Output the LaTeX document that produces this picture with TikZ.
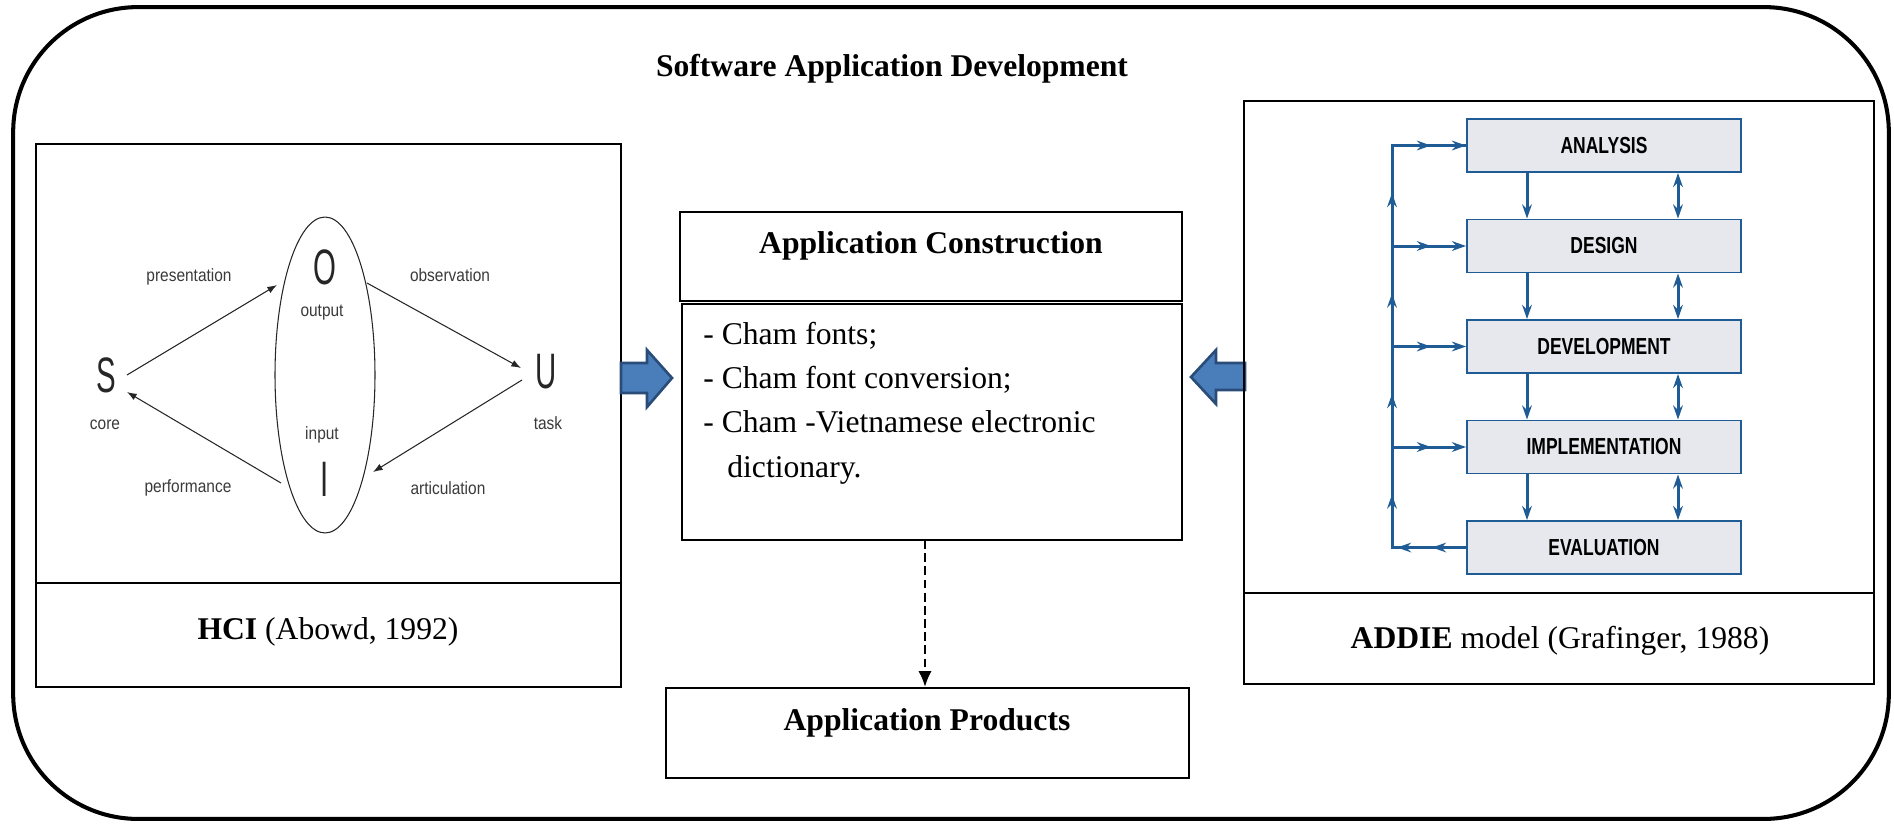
\documentclass[tikz,border=0pt]{standalone}
\usepackage{fontspec}
\setmainfont{Liberation Serif}
\newfontfamily\arialf{Liberation Sans}
\usetikzlibrary{arrows.meta,shapes.geometric}
\definecolor{ablue}{HTML}{1F5B94}
\definecolor{afill}{HTML}{E7E8EE}
\definecolor{bfill}{HTML}{4A7EBB}
\definecolor{bline}{HTML}{2A4C78}
\definecolor{hgray}{HTML}{3A3A3A}
\begin{document}
\begin{tikzpicture}[x=0.02cm,y=-0.02cm,
  box/.style={draw,line width=1.1pt,inner sep=0pt},
  txt/.style={font=\fontsize{18}{22}\selectfont,inner sep=0pt},
  hlab/.style={font=\arialf\fontsize{8.8}{10}\selectfont,text=hgray,inner sep=0pt},
  biglet/.style={font=\arialf\fontsize{27}{27}\selectfont,text=black!85,inner sep=0pt},
  harrow/.style={line width=0.6pt,black!85,-{Latex[length=5.5pt,width=4pt]}},
  abox/.style={draw=ablue,fill=afill,line width=1.1pt,minimum width=5.48cm,minimum height=1.06cm,inner sep=0pt,
     font=\arialf\bfseries\fontsize{12}{12}\selectfont},
  aline/.style={ablue,line width=1.7pt},
  atip/.style={-{Stealth[length=8pt,width=5.5pt]}},
  blockarrow/.style={fill=bfill,draw=bline,line width=1.5pt,line join=miter}
]
\useasboundingbox (0,0) rectangle (1894,823);

% outer frame
\node[draw,line width=2.3pt,rounded corners=2.5cm,minimum width=37.52cm,minimum height=16.24cm,inner sep=0pt] (outer) at (951,413) {};
\node[txt,anchor=base] (title) at (892,76) {\textbf{Software Application Development}};

% HCI panel
\node[box,minimum width=11.7cm,minimum height=8.78cm] (hcibox) at (328.5,363.5) {};
\node[box,minimum width=11.7cm,minimum height=2.08cm] (hcicapbox) at (328.5,635) {};
\node[txt,anchor=base] (hcicap) at (328,639) {\textbf{HCI} (Abowd, 1992)};

\node[draw,ellipse,line width=0.6pt,black!85,minimum width=2cm,minimum height=6.32cm,inner sep=0pt] (ell) at (325,375) {};
\node[biglet] (O) at (325,267) {\scalebox{0.62}[1.05]{O}};
\node[biglet] (S) at (106,375) {\scalebox{0.62}[1.05]{S}};
\node[biglet] (U) at (546,372) {\scalebox{0.62}[1.05]{U}};
\node[biglet] (I) at (325,479) {\scalebox{0.62}[1.05]{I}};
\node[hlab] (lpres) at (189,277) {\scalebox{1}[1.15]{presentation}};
\node[hlab] (lobs) at (450,275) {\scalebox{1}[1.15]{observation}};
\node[hlab] (lout) at (322,313) {\scalebox{1}[1.15]{output}};
\node[hlab] (lcore) at (105,425) {\scalebox{1}[1.15]{core}};
\node[hlab] (linp) at (322,435) {\scalebox{1}[1.15]{input}};
\node[hlab] (ltask) at (548,423) {\scalebox{1}[1.15]{task}};
\node[hlab] (lperf) at (188,488) {\scalebox{1}[1.15]{performance}};
\node[hlab] (lart) at (448,488) {\scalebox{1}[1.15]{articulation}};
\coordinate (pS1) at (127,375);
\coordinate (pO1) at (277,285);
\coordinate (pO2) at (367,283);
\coordinate (pU1) at (521,368);
\coordinate (pU2) at (522,380);
\coordinate (pI1) at (373,472);
\coordinate (pI2) at (281,483);
\coordinate (pS2) at (127,392);
\draw[harrow] (pS1) -- (pO1);
\draw[harrow] (pO2) -- (pU1);
\draw[harrow] (pU2) -- (pI1);
\draw[harrow] (pI2) -- (pS2);

% block arrows
\draw[blockarrow] (621,363) -- (647,363) -- (647,350) -- (672,378) -- (647,407) -- (647,393) -- (621,393) -- cycle;
\draw[blockarrow] (1245,363) -- (1216,363) -- (1216,350) -- (1191,377) -- (1216,404) -- (1216,390) -- (1245,390) -- cycle;

% Application construction
\node[box,minimum width=10.04cm,minimum height=1.78cm] (actbox) at (931,256.5) {};
\node[txt,anchor=base] (actitle) at (931,253) {\textbf{Application Construction}};
\node[box,minimum width=10cm,minimum height=4.72cm] (acbody) at (932,422) {};
\node[txt,anchor=base west] (b1) at (703,344) {- Cham fonts;};
\node[txt,anchor=base west] (b2) at (703,388) {- Cham font conversion;};
\node[txt,anchor=base west] (b3) at (703,432) {- Cham -Vietnamese electronic};
\node[txt,anchor=base west] (b4) at (727,477) {dictionary.};

% products
\node[box,minimum width=10.46cm,minimum height=1.8cm] (prod) at (927.5,733) {};
\node[txt,anchor=base] (prodtxt) at (927,730) {\textbf{Application Products}};
\coordinate (da) at (925,540);
\draw[line width=1.3pt,dash pattern=on 5pt off 2.5pt,-{Latex[length=9pt,width=7.5pt]}] (da) -- (da |- prod.north);

% ADDIE panel
\node[box,minimum width=12.6cm,minimum height=9.84cm] (addiebox) at (1559,347) {};
\node[box,minimum width=12.6cm,minimum height=1.82cm] (addiecapbox) at (1559,638.5) {};
\node[txt,anchor=base] (addiecap) at (1560,648) {\textbf{ADDIE} model (Grafinger, 1988)};

\node[abox] (a1) at (1604,145.5) {\scalebox{0.83}[1.1]{ANALYSIS}};
\node[abox] (a2) at (1604,246) {\scalebox{0.83}[1.1]{DESIGN}};
\node[abox] (a3) at (1604,346.5) {\scalebox{0.83}[1.1]{DEVELOPMENT}};
\node[abox] (a4) at (1604,447) {\scalebox{0.83}[1.1]{IMPLEMENTATION}};
\node[abox] (a5) at (1604,547.5) {\scalebox{0.83}[1.1]{EVALUATION}};
\coordinate (L) at (1392,0);
\coordinate (D) at (1527,0);
\coordinate (B) at (1678,0);
\draw[aline,line join=miter] (a5.west) -- (a5.west -| L) -- (a1.west -| L) -- (a1.west);
\foreach \i in {1,2,3,4}{
  \draw[aline,atip] (a\i.west -| L) -- (a\i.west);
  \draw[aline,atip] (a\i.west -| L) -- ++(39,0);
}
\foreach \i in {2,3,4,5}{
  \draw[aline,atip] (a\i.west -| L) -- ++(0,-53);
}
\draw[aline,atip] (a5.west) -- ++(-69,0);
\draw[aline,atip] (a5.west) -- ++(-34,0);
\foreach \i/\j in {1/2,2/3,3/4,4/5}{
  \draw[aline,atip] (a\i.south -| D) -- (a\j.north -| D);
  \draw[aline,{Stealth[length=8pt,width=5.5pt]}-{Stealth[length=8pt,width=5.5pt]}] (a\i.south -| B) -- (a\j.north -| B);
}
\end{tikzpicture}
\end{document}
